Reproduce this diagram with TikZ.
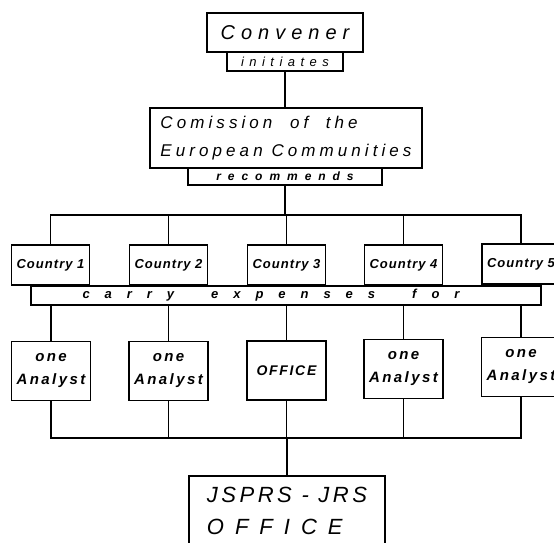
\documentclass[tikz,border=0pt]{standalone}
\usepackage{fontspec}
\setmainfont{Liberation Sans}
\usepackage{tikz}

\begin{document}
\begin{tikzpicture}[x=1pt,y=-1pt]
\tikzstyle{every node}+=[inner sep=0pt]
\tikzstyle{box}=[draw=black, line width=1.6pt, fill=white]
\tikzstyle{link}=[draw=black, line width=1.3pt]
\tikzstyle{bus}=[draw=black, line width=1.9pt]
\tikzstyle{country}=[box, minimum width=78pt, minimum height=40pt, font=\fontsize{13}{15}\selectfont\bfseries\itshape\addfontfeature{LetterSpace=8}]
\tikzstyle{analyst}=[box, minimum width=79pt, minimum height=59pt, align=center, font=\fontsize{15}{23}\selectfont\bfseries\itshape\addfontfeature{LetterSpace=16}]
\useasboundingbox (0,0) rectangle (554,542);
% top of the chart
\node [box, minimum width=156pt, minimum height=39pt, font=\fontsize{20}{22}\selectfont\itshape\addfontfeature{LetterSpace=30}] (convener) at (285,32.5) {Convener};
\node [box, minimum width=116pt, minimum height=19pt, font=\fontsize{13}{15}\selectfont\itshape\addfontfeature{LetterSpace=42}] (initiates) at (285,61.5) {initiates};
\node [box, minimum width=272pt, minimum height=60pt, align=left, font=\fontsize{17}{28}\selectfont\itshape\addfontfeature{LetterSpace=24}] (commission) at (286,138) {Comission \ of \ the\\European Communities};
\node [box, minimum width=194pt, minimum height=17pt, font=\fontsize{12}{14}\selectfont\bfseries\itshape\addfontfeature{LetterSpace=58}] (recommends) at (285,176.5) {recommends};
\coordinate (topbus) at (285,215);
% the five countries
\node [country] (country1) at (50.5,265) {Country 1};
\node [country] (country2) at (168.5,265) {Country 2};
\node [country] (country3) at (286.5,265) {Country 3};
\node [country] (country4) at (403.5,265) {Country 4};
\node [country] (country5) at (521,264) {Country 5};
\node [box, minimum width=510pt, minimum height=19pt, font=\fontsize{13}{15}\selectfont\bfseries\itshape\addfontfeature{LetterSpace=115}] (expenses) at (286,295.5) {carry \ expenses \ for\kern30pt};
% what they pay for
\node [analyst] (analyst1) at (51,371) {one\\Analyst};
\node [analyst] (analyst2) at (168.5,371) {one\\Analyst};
\node [analyst, font=\fontsize{14}{16}\selectfont\bfseries\itshape\addfontfeature{LetterSpace=12}] (office) at (286.5,370.5) {OFFICE};
\node [analyst] (analyst4) at (403.5,369) {one\\Analyst};
\node [analyst] (analyst5) at (521,367) {one\\Analyst};
\coordinate (botbus) at (287,438);
\node [box, minimum width=196pt, minimum height=70pt, align=left, font=\fontsize{22}{32}\selectfont\itshape] (isprs) at (287,511) {{\addfontfeature{LetterSpace=16}JSPRS - JRS}\\{\addfontfeature{LetterSpace=50}OFFICE}};
% connectors
\draw [link] (initiates.south) -- (initiates.south |- commission.north);
\draw [link] (recommends.south) -- (recommends.south |- topbus);
\draw [bus] (country1.north) -- (country1.north |- topbus) -- (country5.north |- topbus) -- (country5.north);
\draw [link] (country2.north) -- (country2.north |- topbus);
\draw [link] (country3.north) -- (country3.north |- topbus);
\draw [link] (country4.north) -- (country4.north |- topbus);
\draw [link] (analyst1.north) -- (analyst1.north |- expenses.south);
\draw [link] (analyst2.north) -- (analyst2.north |- expenses.south);
\draw [link] (office.north) -- (office.north |- expenses.south);
\draw [link] (analyst4.north) -- (analyst4.north |- expenses.south);
\draw [link] (analyst5.north) -- (analyst5.north |- expenses.south);
\draw [bus] (analyst1.south) -- (analyst1.south |- botbus) -- (analyst5.south |- botbus) -- (analyst5.south);
\draw [link] (analyst2.south) -- (analyst2.south |- botbus);
\draw [link] (office.south) -- (office.south |- botbus);
\draw [link] (analyst4.south) -- (analyst4.south |- botbus);
\draw [link] (isprs.north) -- (isprs.north |- botbus);
\end{tikzpicture}
\end{document}
